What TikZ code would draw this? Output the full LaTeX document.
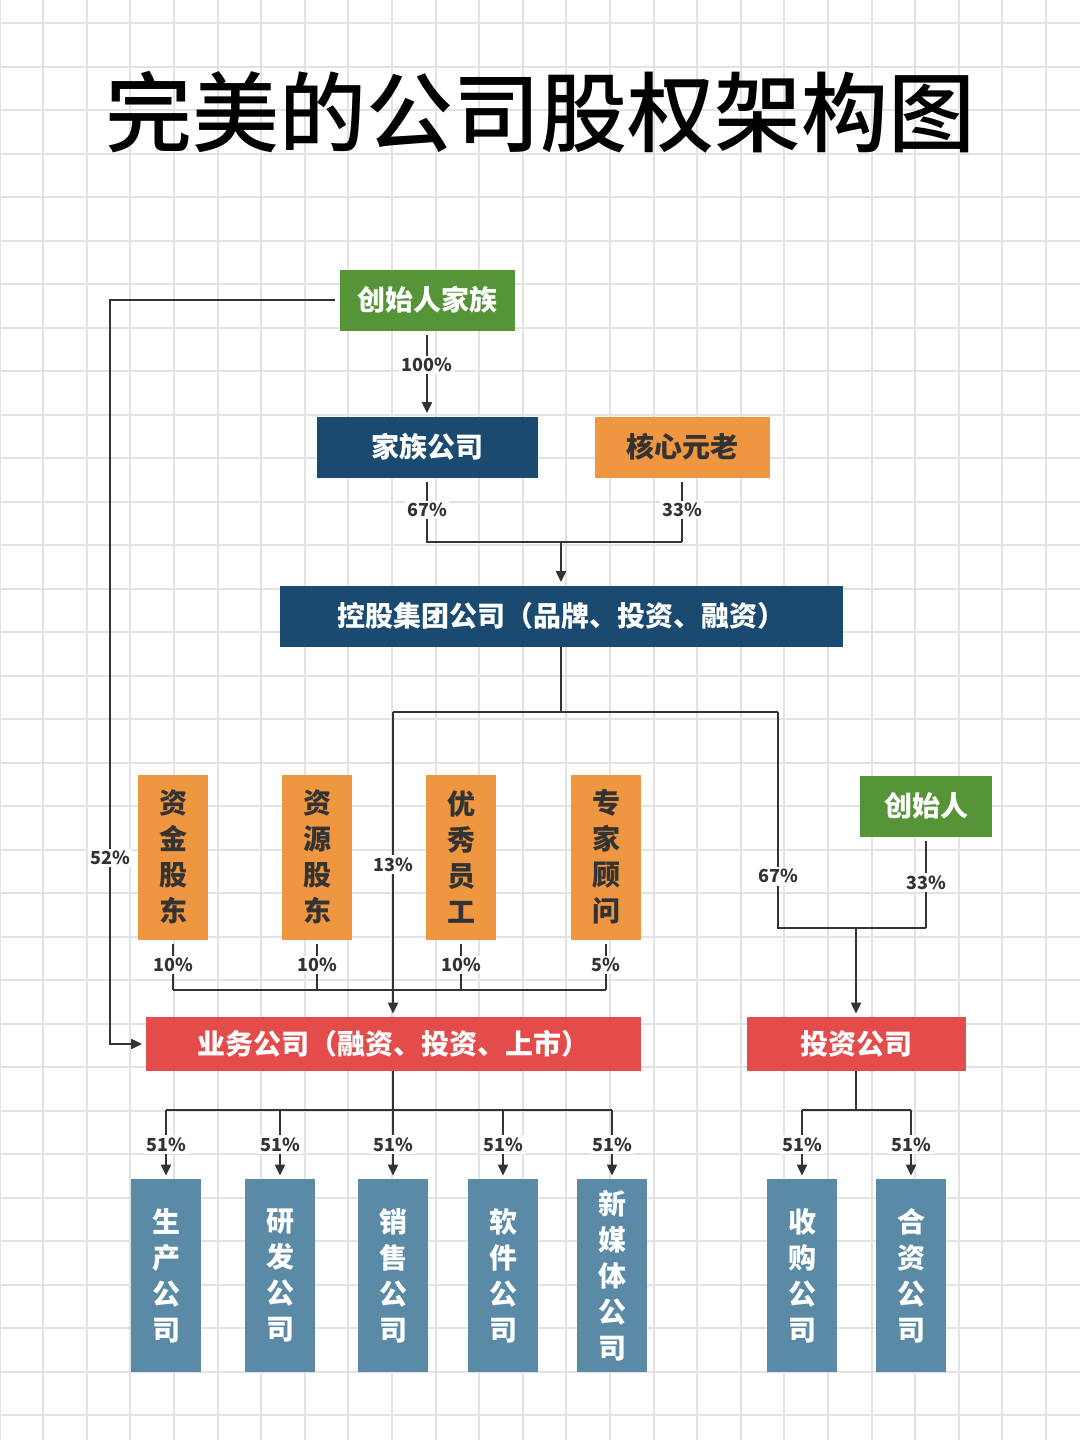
\documentclass[tikz,border=0pt]{standalone}
\usepackage{fontspec}
\usetikzlibrary{arrows.meta}
\newfontfamily\cjk{Noto Sans CJK SC}
\newfontfamily\titlefont{Noto Sans CJK SC Medium}

\definecolor{cgreen}{RGB}{86,148,56}
\definecolor{cnavy}{RGB}{26,74,112}
\definecolor{corange}{RGB}{238,150,64}
\definecolor{cred}{RGB}{228,76,76}
\definecolor{csteel}{RGB}{90,138,165}
\definecolor{ink}{RGB}{51,51,51}
\definecolor{gridc}{RGB}{226,226,226}

\tikzset{
  hbox/.style={rectangle, inner sep=0pt, minimum height=30.5pt, text=white,
    font=\cjk\bfseries\fontsize{14}{18}\selectfont},
  vbox/.style={rectangle, inner sep=0pt, minimum width=35pt, align=center, text=white,
    font=\cjk\bfseries\fontsize{14}{18}\selectfont},
  pct/.style={fill=white, inner sep=1.2pt, text=ink, font=\cjk\bfseries\fontsize{9}{10}\selectfont},
  link/.style={draw=ink, line width=1pt},
  arr/.style={link, -{Triangle[length=5.5pt,width=5pt]}, shorten >=1.5pt}
}

\begin{document}
\begin{tikzpicture}[x=0.5pt, y=-0.5pt]
  \useasboundingbox (0,0) rectangle (1080,1440);
  \fill[white] (0,0) rectangle (1080,1440);

  % grid
  \foreach \i in {0,...,24} \draw[gridc, line width=1pt] (\i*43.6-0.5,0) -- (\i*43.6-0.5,1440);
  \foreach \j in {0,...,32} \draw[gridc, line width=1pt] (0,\j*43.5+23) -- (1080,\j*43.5+23);

  \node[font=\titlefont\fontsize{43.5}{50}\selectfont] (title) at (540,112) {完美的公司股权架构图};

  % top part
  \node[hbox, fill=cgreen, minimum width=87.5pt] (family) at (427,300) {创始人家族};
  \node[hbox, fill=cnavy, minimum width=110.5pt] (famco) at (427,447) {家族公司};
  \node[hbox, fill=corange, text=ink, minimum width=87.5pt] (elders) at (682,447) {核心元老};
  \node[hbox, fill=cnavy, minimum width=281.5pt] (holding) at (561,616) {控股集团公司（品牌、投资、融资）};

  % shareholders
  \node[vbox, fill=corange, text=ink, minimum height=82.5pt] (fund) at (173,857) {资\\金\\股\\东};
  \node[vbox, fill=corange, text=ink, minimum height=82.5pt] (res) at (317,857) {资\\源\\股\\东};
  \node[vbox, fill=corange, text=ink, minimum height=82.5pt] (staff) at (461,857) {优\\秀\\员\\工};
  \node[vbox, fill=corange, text=ink, minimum height=82.5pt] (expert) at (606,857) {专\\家\\顾\\问};
  \node[hbox, fill=cgreen, minimum width=66pt] (founder) at (926,806) {创始人};

  \node[hbox, fill=cred, minimum width=247.5pt, minimum height=27pt] (bizco) at (393,1044) {业务公司（融资、投资、上市）};
  \node[hbox, fill=cred, minimum width=109.5pt, minimum height=27pt] (invco) at (856,1044) {投资公司};

  % subsidiaries
  \node[vbox, fill=csteel, minimum height=96.5pt] (prod) at (166,1275.5) {生\\产\\公\\司};
  \node[vbox, fill=csteel, minimum height=96.5pt] (rd) at (280,1275.5) {研\\发\\公\\司};
  \node[vbox, fill=csteel, minimum height=96.5pt] (sales) at (393,1275.5) {销\\售\\公\\司};
  \node[vbox, fill=csteel, minimum height=96.5pt] (soft) at (503,1275.5) {软\\件\\公\\司};
  \node[vbox, fill=csteel, minimum height=96.5pt] (media) at (612,1275.5) {新\\媒\\体\\公\\司};
  \node[vbox, fill=csteel, minimum height=96.5pt] (buy) at (802,1275.5) {收\\购\\公\\司};
  \node[vbox, fill=csteel, minimum height=96.5pt] (joint) at (911,1275.5) {合\\资\\公\\司};

  \coordinate (j1) at (561,542);
  \coordinate (j2) at (561,712);
  \coordinate (j3) at (778,712);
  \coordinate (j4) at (856,928);
  \coordinate (lft) at (110,1044);
  \coordinate (bus1) at (393,990);
  \coordinate (bus2) at (393,1110);
  \coordinate (bus3) at (856,1110);

  % connectors
  \draw[arr, shorten <=2pt] (family) -- node[pct, pos=0.4] {100\%} (famco);
  \draw[link, shorten <=2pt] (famco.south) -- node[pct] {67\%} (famco.south |- j1) -- (elders.south |- j1);
  \draw[link, shorten <=2pt] (elders.south) -- node[pct] {33\%} (elders.south |- j1);
  \draw[arr] (j1) -- (holding);

  \draw[link] (holding.south) -- (j2);
  \draw[link] (bizco.north |- j2) -- (j3);
  \draw[arr] (bizco.north |- j2) -- node[pct] {13\%} (bizco.north);
  \draw[link] (j3) -- node[pct, pos=0.76] {67\%} (j3 |- j4) -- (founder.south |- j4);
  \draw[link, shorten <=2pt] (founder.south) -- node[pct] {33\%} (founder.south |- j4);
  \draw[arr] (j4) -- (invco);

  \draw[arr, shorten <=2pt] (family.west) -- (family.west -| lft) -- node[pct, pos=0.75] {52\%} (lft) -- (bizco.west);

  \foreach \n/\p in {fund/10\%, res/10\%, staff/10\%, expert/5\%}
    \draw[link, shorten <=2pt] (\n.south) -- node[pct] {\p} (\n.south |- bus1);
  \draw[link] (fund.south |- bus1) -- (expert.south |- bus1);

  \draw[link] (bizco.south) -- (bus2);
  \draw[link] (prod.north |- bus2) -- (media.north |- bus2);
  \foreach \n in {prod, rd, sales, soft, media}
    \draw[arr] (\n.north |- bus2) -- node[pct] {51\%} (\n.north);

  \draw[link] (invco.south) -- (bus3);
  \draw[link] (buy.north |- bus3) -- (joint.north |- bus3);
  \foreach \n in {buy, joint}
    \draw[arr] (\n.north |- bus3) -- node[pct] {51\%} (\n.north);
\end{tikzpicture}
\end{document}
